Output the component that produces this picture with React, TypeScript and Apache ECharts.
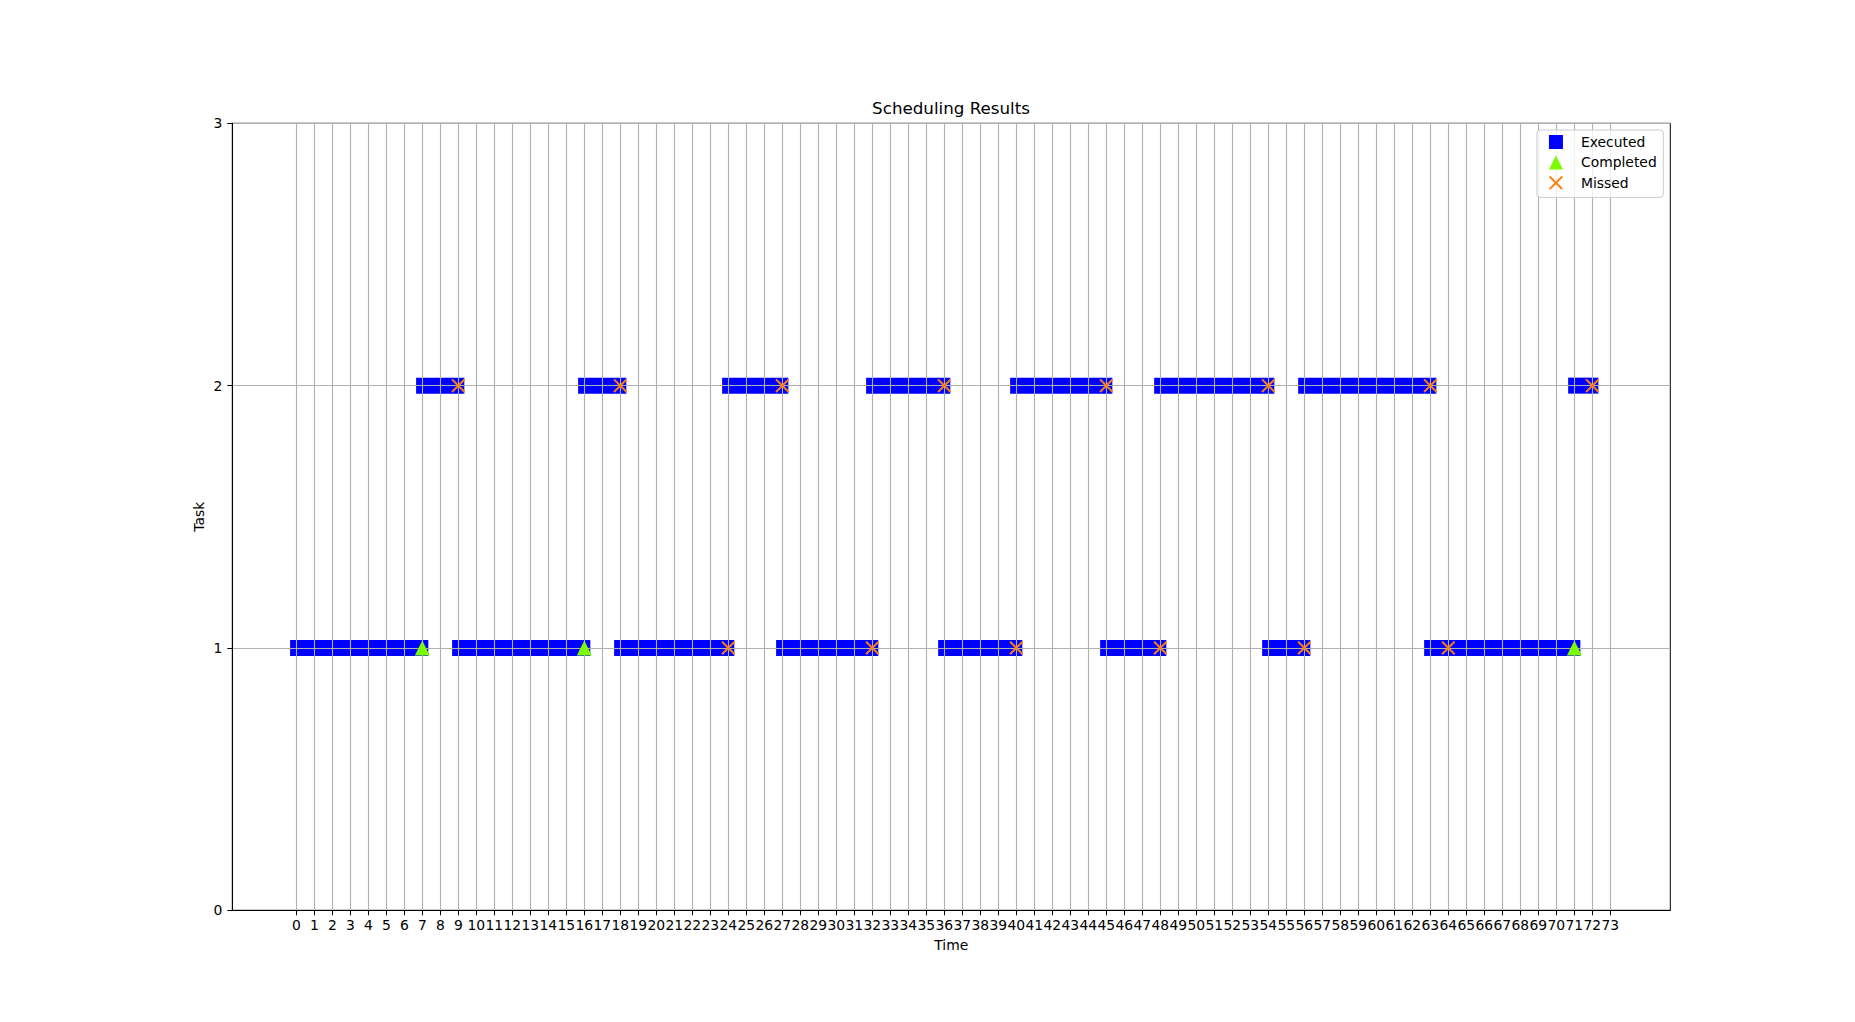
import React, { useEffect, useRef } from "react";
import * as echarts from "echarts";

// Tick labels
const xTicks = [
  0, 1, 2, 3, 4, 5, 6, 7, 8, 9, 10, 11, 12, 13, 14, 15, 16, 17, 18, 19, 20, 21, 22, 23, 24,
  25, 26, 27, 28, 29, 30, 31, 32, 33, 34, 35, 36, 37, 38, 39, 40, 41, 42, 43, 44, 45, 46, 47,
  48, 49, 50, 51, 52, 53, 54, 55, 56, 57, 58, 59, 60, 61, 62, 63, 64, 65, 66, 67, 68, 69, 70,
  71, 72, 73,
];
const yTicks = [0, 1, 2, 3];

// Executed segments [start, end, task]
const task1Executed = [
  [0, 7, 1], [9, 16, 1], [18, 24, 1], [27, 32, 1],
  [36, 40, 1], [45, 48, 1], [54, 56, 1], [63, 71, 1],
];
const task2Executed = [
  [7, 9, 2], [16, 18, 2], [24, 27, 2], [32, 36, 2],
  [40, 45, 2], [48, 54, 2], [56, 63, 2], [71, 72, 2],
];
// Completed [time, task]
const completed = [[7, 1], [16, 1], [71, 1]];
// Missed [time, task]
const missed = [
  [24, 1], [32, 1], [40, 1], [48, 1], [56, 1], [64, 1],
  [9, 2], [18, 2], [27, 2], [36, 2], [45, 2], [54, 2], [63, 2], [72, 2],
];

const FONT = "DejaVu Sans";
const RECT_ICON = "path://M0,0L10,0L10,10L0,10Z";
const TRI_ICON = "path://M5,0L10,10L0,10Z";
const X_ICON = "path://M0,1L1,0L5,4L9,0L10,1L6,5L10,9L9,10L5,6L1,10L0,9L4,5Z";

export default function App() {
  const ref = useRef<HTMLDivElement>(null);
  useEffect(() => {
    if (!ref.current) return;
    const chart = echarts.init(ref.current, null, { renderer: "svg" });
    const executed = [...task1Executed, ...task2Executed];
    const axisCommon = {
      z: 2,
      nameMoveOverlap: false,
      axisLine: { show: true, onZero: false, lineStyle: { color: "#000", width: 1 } },
      axisTick: { show: true, inside: false, length: 5, lineStyle: { color: "#000", width: 1 } },
      splitLine: { show: true, lineStyle: { color: "#b0b0b0", width: 1.1 } },
      nameTextStyle: { fontFamily: FONT, fontSize: 13.9, color: "#000" },
    };
    chart.setOption({
      animation: false,
      textStyle: { fontFamily: FONT },
      title: {
        text: "Scheduling Results",
        left: 951,
        textAlign: "center",
        top: 99.6,
        padding: 0,
        textStyle: { fontFamily: FONT, fontSize: 16.7, fontWeight: "normal", color: "#000" },
      },
      legend: {
        orient: "vertical",
        right: 191.7,
        top: 130,
        padding: [5, 6.6, 7.6, 12],
        itemWidth: 28,
        itemHeight: 14,
        itemGap: 6.4,
        symbolKeepAspect: true,
        backgroundColor: "rgba(255,255,255,0.8)",
        borderColor: "#cccccc",
        borderWidth: 1,
        borderRadius: 3,
        textStyle: { fontFamily: FONT, fontSize: 13.9, color: "#000", lineHeight: 14, padding: [0, 0, 0, 6] },
        data: [
          { name: "Executed", icon: RECT_ICON },
          { name: "Completed", icon: TRI_ICON },
          { name: "Missed", icon: X_ICON },
        ],
      },
      grid: {
        left: 232.3,
        right: 184.7,
        top: 123.3,
        bottom: 111.7,
        show: true,
        borderColor: "#000",
        borderWidth: 1,
        backgroundColor: "transparent",
      },
      xAxis: {
        ...axisCommon,
        type: "value",
        min: -3.556,
        max: 76.33,
        name: "Time",
        nameLocation: "middle",
        nameGap: 28,
        axisTick: { ...axisCommon.axisTick, customValues: xTicks },
        axisLabel: {
          customValues: xTicks,
          margin: 7.5,
          fontFamily: FONT,
          fontSize: 13.9,
          color: "#000",
          hideOverlap: false,
        },
      },
      yAxis: {
        ...axisCommon,
        type: "value",
        min: 0,
        max: 3,
        interval: 1,
        name: "Task",
        nameLocation: "middle",
        nameGap: 26,
        axisTick: { ...axisCommon.axisTick, customValues: yTicks },
        axisLabel: { customValues: yTicks, margin: 10, fontFamily: FONT, fontSize: 13.9, color: "#000" },
      },
      series: [
        {
          name: "Executed",
          type: "custom",
          z: 1,
          itemStyle: { color: "#0000ff" },
          encode: { x: [0, 1], y: 2 },
          data: executed,
          renderItem: (params: any, api: any) => {
            const s = api.coord([api.value(0), api.value(2)]);
            const e = api.coord([api.value(1), api.value(2)]);
            return {
              type: "rect",
              shape: { x: s[0] - 6.2, y: s[1] - 8, width: e[0] - s[0] + 12.2, height: 16 },
              style: { fill: "#0000ff" },
            };
          },
        },
        {
          name: "Completed",
          type: "scatter",
          z: 3,
          symbol: TRI_ICON,
          symbolSize: 15,
          itemStyle: { color: "#7cfc00", opacity: 1 },
          data: completed,
        },
        {
          name: "Missed",
          type: "scatter",
          z: 3,
          symbol: X_ICON,
          symbolSize: 14,
          itemStyle: { color: "#ff7f0e", opacity: 1 },
          data: missed,
        },
      ],
    });
    return () => chart.dispose();
  }, []);
  return (
    <div
      ref={ref}
      style={{ position: "absolute", left: 0, top: 0, width: 1855, height: 1022, background: "#fff" }}
    />
  );
}
